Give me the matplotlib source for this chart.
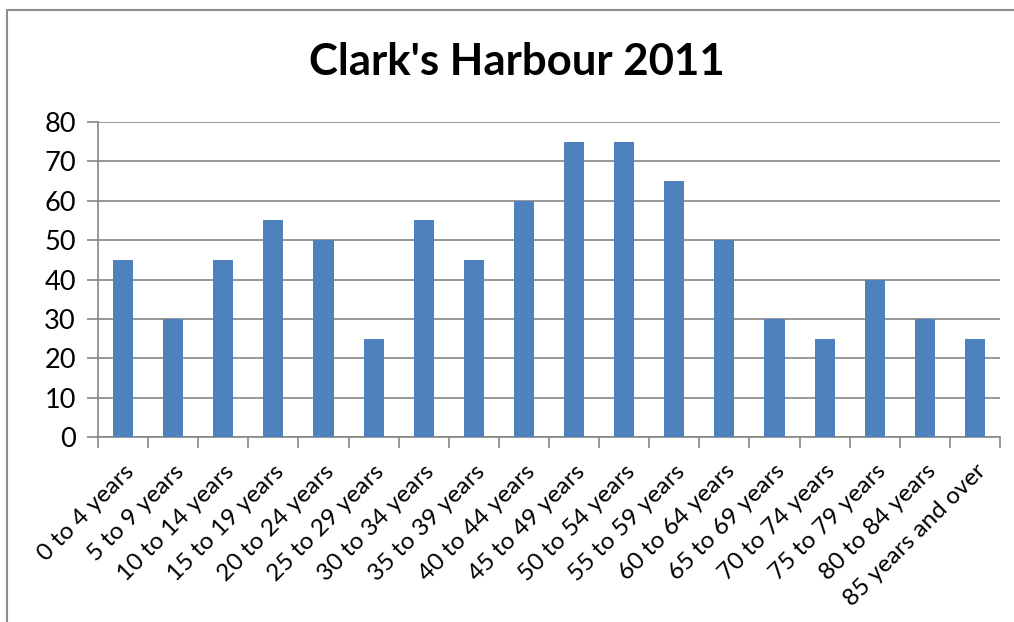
import numpy as np
import matplotlib.pyplot as plt
from matplotlib.patches import Rectangle

age_groups = ["0 to 4 years", "5 to 9 years", "10 to 14 years", "15 to 19 years",
              "20 to 24 years", "25 to 29 years", "30 to 34 years", "35 to 39 years",
              "40 to 44 years", "45 to 49 years", "50 to 54 years", "55 to 59 years",
              "60 to 64 years", "65 to 69 years", "70 to 74 years", "75 to 79 years",
              "80 to 84 years", "85 years and over"]
population = [45, 30, 45, 55, 50, 25, 55, 45, 60, 75, 75, 65, 50, 30, 25, 40, 30, 25]

plt.rcParams['font.family'] = ['Lato', 'DejaVu Sans']
grid_col = '#868686'

fig = plt.figure(figsize=(10.14, 6.22), dpi=100)
# outer chart border (left and top visible only)
fig.patches.append(Rectangle((7/1014, -0.1), 1.2, (622-10)/622 + 0.1, transform=fig.transFigure,
                             fill=False, edgecolor='#8c8c8c', linewidth=1.5))

ax = fig.add_axes([98/1014, 1-437/622, (1000-98)/1014, (437-122)/622])
x = np.arange(len(age_groups))
ax.bar(x, population, width=0.4, color='#4F81BD', zorder=3)

ax.set_xlim(-0.5, len(age_groups)-0.5)
ax.set_ylim(0, 80)
ax.set_yticks(range(0, 81, 10))
ax.yaxis.grid(True, color=grid_col, linewidth=1.2, zorder=0)
for s in ['top', 'right']:
    ax.spines[s].set_visible(False)
for s in ['left', 'bottom']:
    ax.spines[s].set_color(grid_col)
    ax.spines[s].set_linewidth(1.2)

ax.set_xticks(np.arange(-0.5, len(age_groups)), minor=False)
ax.set_xticklabels([])
ax.set_xticks(x, minor=True)
ax.set_xticklabels(age_groups, minor=True, rotation=45, ha='right', va='top',
                   rotation_mode='anchor', fontsize=17.5)
ax.tick_params(axis='x', which='major', length=8, color=grid_col, width=1.2)
ax.tick_params(axis='x', which='minor', length=0, pad=17)
ax.tick_params(axis='y', length=8, color=grid_col, width=1.2, labelsize=19.5, pad=8)

fig.text(517/1014, 1-62/622, "Clark's Harbour 2011", ha='center', va='center',
         fontsize=31.5, fontweight='bold')

fig.savefig('out.png', dpi=100)
